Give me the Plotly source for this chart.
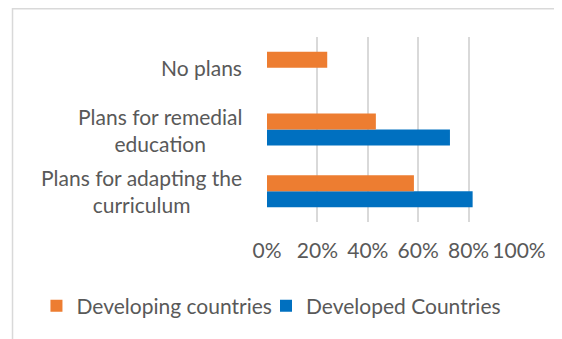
import plotly.graph_objects as go

# categories bottom -> top, as plotly draws them
categories = [
    "Plans for adapting the<br>curriculum",
    "Plans for remedial<br>education",
    "No plans",
]
developing = [58.3, 43.2, 23.9]
developed = [81.6, 72.6, None]
x_ticks = [0, 20, 40, 60, 80, 100]

FONT = "Lato"
SIZE = 21
GREY = "#595959"
ORANGE = "#ED7D31"
BLUE = "#0070C0"

# page has an 8px body margin, so the figure is laid out 8px up/left
W, H = 554, 331
L, T = 259, 29
plot_w, plot_h = 252.5, 185

fig = go.Figure()

# first trace sits lower in each group -> developed (blue) first
fig.add_trace(
    go.Bar(
        y=categories,
        x=developed,
        orientation="h",
        name="Developed Countries",
        marker=dict(color=BLUE, line=dict(width=0)),
        legend="legend2",
    )
)
fig.add_trace(
    go.Bar(
        y=categories,
        x=developing,
        orientation="h",
        name="Developing countries",
        marker=dict(color=ORANGE, line=dict(width=0)),
        legend="legend",
    )
)

# wrapped category labels, lines centred, block right-aligned
annotations = [
    dict(
        x=-23 / plot_w,
        xref="paper",
        y=cat,
        yref="y",
        text=cat,
        showarrow=False,
        xanchor="right",
        align="center",
        font=dict(family=FONT, size=SIZE, color=GREY),
    )
    for cat in categories
]

legend_y = -(298 - (T + plot_h)) / plot_h


def legend_at(px):
    return dict(
        orientation="h",
        xref="paper",
        yref="paper",
        x=(px - L) / plot_w,
        xanchor="left",
        y=legend_y,
        yanchor="middle",
        font=dict(family=FONT, size=SIZE, color=GREY),
        itemwidth=30,
        bgcolor="rgba(0,0,0,0)",
    )


fig.update_layout(
    width=W,
    height=H,
    margin=dict(l=L, r=W - L - plot_w, t=T, b=H - T - plot_h, autoexpand=False),
    barmode="group",
    bargap=0.48,
    bargroupgap=0,
    paper_bgcolor="#FFFFFF",
    plot_bgcolor="#FFFFFF",
    font=dict(family=FONT, size=SIZE, color=GREY),
    showlegend=True,
    legend=legend_at(28),
    legend2=legend_at(258),
    annotations=annotations,
    shapes=[
        dict(
            type="rect",
            xref="paper",
            yref="paper",
            x0=(4 - L) / plot_w,
            x1=1.4,
            y0=-0.9,
            y1=(T + plot_h - 0.75) / plot_h,
            line=dict(color="#D9D9D9", width=1.5),
            layer="below",
        )
    ],
)

fig.update_xaxes(
    range=[0, 100],
    tickvals=x_ticks,
    ticktext=[f"{v}%" for v in x_ticks],
    showgrid=True,
    gridcolor="#D9D9D9",
    gridwidth=1.5,
    zeroline=False,
    showline=False,
    ticklabelstandoff=14,
    tickfont=dict(family=FONT, size=SIZE, color=GREY),
)
fig.update_yaxes(
    showticklabels=False,
    showgrid=False,
    zeroline=False,
    showline=False,
)

fig.write_html("out.html")
